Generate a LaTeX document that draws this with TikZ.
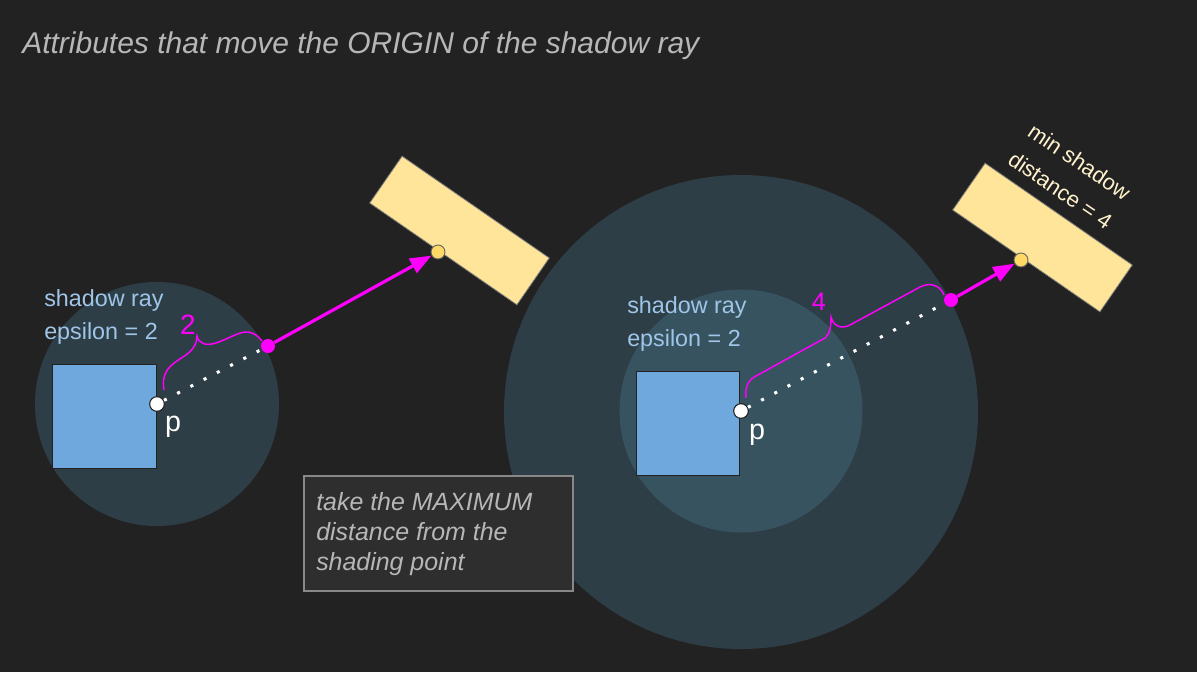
\documentclass[tikz,border=0pt]{standalone}
\usepackage{fontspec}
\setmainfont{Liberation Sans}
\usetikzlibrary{arrows.meta}

\definecolor{bgdark}{RGB}{34,34,34}
\definecolor{circdark}{RGB}{46,62,71}
\definecolor{circmid}{RGB}{55,83,96}
\definecolor{squareblue}{RGB}{111,168,220}
\definecolor{lightyellow}{RGB}{255,229,153}
\definecolor{dotyellow}{RGB}{255,217,102}
\definecolor{raymagenta}{RGB}{255,0,255}
\definecolor{labelblue}{RGB}{159,197,232}
\definecolor{creamtext}{RGB}{255,242,204}
\definecolor{greytext}{RGB}{183,183,183}
\definecolor{notefill}{RGB}{46,46,46}
\definecolor{noteborder}{RGB}{136,136,136}

\tikzset{
  pdot/.style={circle,fill=white,draw=bgdark,line width=0.8pt,minimum size=11pt,inner sep=0pt},
  mdot/.style={circle,fill=raymagenta,minimum size=10.5pt,inner sep=0pt},
  ydot/.style={circle,fill=dotyellow,draw=bgdark!70!white,line width=0.7pt,minimum size=10.5pt,inner sep=0pt},
  raydots/.style={draw=white,line width=2.3pt,dash pattern=on 2.3pt off 8.9pt},
  shadowray/.style={draw=raymagenta,line width=2.4pt,-{Triangle[length=16pt,width=12pt]}},
  bracecurve/.style={draw=raymagenta,line width=1.1pt},
  emitter/.style={fill=lightyellow,draw=bgdark!60!white,line width=0.6pt},
  occluder/.style={fill=squareblue,draw=bgdark,line width=0.7pt},
  epslabel/.style={text=labelblue,font=\fontsize{17.5}{24.75}\selectfont,align=left,inner sep=0pt},
  plabel/.style={text=white,font=\fontsize{21.5}{26}\selectfont,inner sep=0pt},
  digitlabel/.style={text=raymagenta,inner sep=0pt},
}

\begin{document}
\begin{tikzpicture}[x=0.75pt,y=0.75pt,yscale=-1,xscale=1]
%set diagram left start at 0, and has height of 672
\fill[bgdark] (0,0) rectangle (1197,672);

%Shape: Circle (left epsilon)
\fill[circdark] (157,404) circle (122);
%Shape: Circle (right min distance)
\fill[circdark] (741,412) circle (237);
%Shape: Circle (right epsilon)
\fill[circmid] (741,411) circle (121.5);

%Shape: Rectangle (left object)
\draw[occluder] (52,364) -- (156,364) -- (156,468) -- (52,468) -- cycle ;
%Shape: Rectangle (right object)
\draw[occluder] (636,371) -- (739,371) -- (739,475) -- (636,475) -- cycle ;

%Shape: Rectangle (left light)
\draw[emitter] (402.1,156.2) -- (549.3,258.0) -- (516.9,304.8) -- (369.7,203.0) -- cycle ;
%Shape: Rectangle (right light)
\draw[emitter] (985.1,163.2) -- (1132.3,265.0) -- (1099.9,311.8) -- (952.7,210.0) -- cycle ;

% Points
\node (pleft) [pdot] at (157,404) {};
\node (mleft) [mdot] at (268,346) {};
\node (yleft) [ydot] at (438,252) {};
\node (pright) [pdot] at (741,411) {};
\node (mright) [mdot] at (951,300) {};
\node (yright) [ydot] at (1021,260) {};

% Rays
\draw[raydots] (pleft) -- (mleft);
\draw[shadowray] (mleft) -- (yleft);
\draw[raydots] (pright) -- (mright);
\draw[shadowray] (mright) -- (yright);

% Braces
\draw[bracecurve] (164,390) .. controls (161,372) and (170,365) .. (183,357) .. controls (194,350) and (197,343) .. (197,336) .. controls (199,344) and (206,346) .. (216,343) .. controls (228,339) and (240,331) .. (248,332) .. controls (255,333) and (259,337) .. (262,341) ;
\draw[bracecurve] (746,398) .. controls (745,387) and (748,380) .. (756,376) -- (825,338) .. controls (830,334) and (831,326) .. (831,317) .. controls (833,325) and (840,330) .. (850,325) -- (920,287) .. controls (930,282) and (940,285) .. (944,295) ;

% Text Node
\draw (22,46) node (title) [anchor=west][inner sep=0pt][text=greytext,font=\fontsize{22.5}{27}\selectfont\itshape] {Attributes that move the ORIGIN of the shadow ray};
% Text Node
\draw (44,317) node (epsleft) [anchor=west][epslabel] {shadow ray\\epsilon = 2};
% Text Node
\draw (627,324) node (epsright) [anchor=west][epslabel] {shadow ray\\epsilon = 2};
% Text Node
\draw (173,427) node (pleftlabel) [plabel] {p};
% Text Node
\draw (757,435) node (prightlabel) [plabel] {p};
% Text Node
\draw (188,325) node (twolabel) [digitlabel] {\fontsize{21}{24}\selectfont 2};
% Text Node
\draw (819,302) node (fourlabel) [digitlabel] {\fontsize{19}{22}\selectfont 4};
% Text Node
\draw (1070,176) node (minlabel) [rotate=-34][inner sep=0pt][align=center][text=creamtext,font=\fontsize{16.5}{25.5}\selectfont] {min shadow\\distance = 4};

%Shape: Rectangle (note)
\draw[fill=notefill,draw=noteborder,line width=1pt] (304,476) -- (573,476) -- (573,591) -- (304,591) -- cycle ;
% Text Node
\draw (316,534) node (note) [anchor=west][inner sep=0pt][align=left][text=greytext,font=\fontsize{18.7}{22.2}\selectfont\itshape] {take the MAXIMUM\\distance from the\\shading point};

\end{tikzpicture}
\end{document}
